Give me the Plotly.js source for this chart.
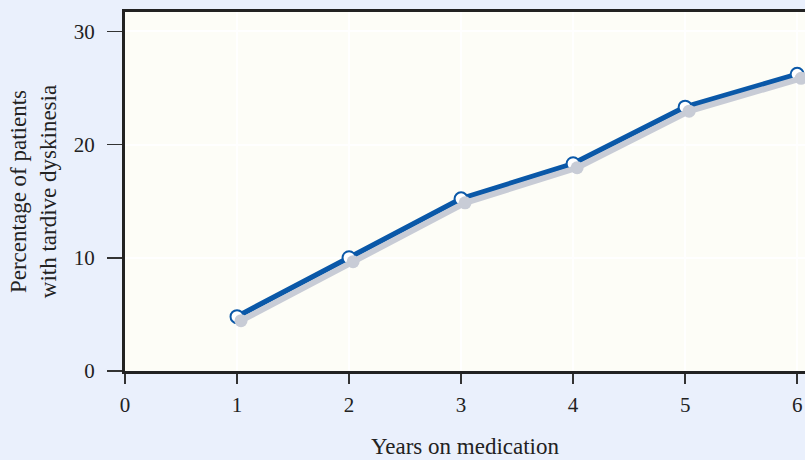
<!DOCTYPE html>
<html><head><meta charset="utf-8">
<script src="https://cdn.plot.ly/plotly-3.0.1.min.js"></script>
<style>html,body{margin:0;padding:0;background:#eaf0fc;}#chart{width:805px;height:460px;}</style>
</head><body><div id="chart"></div>
<script>
const years = [1, 2, 3, 4, 5, 6];
const percent = [4.8, 10.0, 15.2, 18.3, 23.3, 26.2];
const xTicks = [0, 1, 2, 3, 4, 5, 6];
const yTicks = [0, 10, 20, 30];

const W = 805, H = 460, L = 125, R = 0, T = 12, B = 89;
const xr = [0, 6.07], yr = [0, 31.7];
const pxX = (xr[1]-xr[0])/(W-L-R), pxY = (yr[1]-yr[0])/(H-T-B);
const sh = 4;

const font = "'Liberation Serif', 'Times New Roman', serif";
const tf = {family: font, size: 21, color: '#222'};
const shadow = {x: years, y: percent, xaxis: 'x2', yaxis: 'y2', mode: 'lines+markers',
  line: {color: '#c8ccd6', width: 6}, marker: {size: 13, color: '#c8ccd6'}, hoverinfo: 'skip', showlegend: false};
const main = {x: years, y: percent, mode: 'lines+markers',
  line: {color: '#0a58a8', width: 5.5},
  marker: {size: 13, color: '#ffffff', line: {color: '#0a58a8', width: 2}}, showlegend: false};

const layout = {
  width: W, height: H, margin: {l: L, r: R, t: T, b: B},
  paper_bgcolor: '#eaf0fc', plot_bgcolor: '#fdfdf7',
  font: {family: font, size: 21, color: '#222'},
  xaxis: {range: xr, tickvals: xTicks, tickfont: tf, showgrid: true, gridcolor: '#ffffff', gridwidth: 2, zeroline: false,
    showline: true, linecolor: '#222', linewidth: 3, mirror: true, ticks: 'outside', ticklen: 10, tickwidth: 1.5, tickcolor: '#333',
    ticklabelstandoff: 3,
    title: {text: 'Years on medication', font: {family: font, size: 23, color: '#222'}, standoff: 22}},
  yaxis: {range: yr, tickvals: yTicks, tickfont: tf, showgrid: true, gridcolor: '#ffffff', gridwidth: 2, zeroline: false,
    showline: true, linecolor: '#222', linewidth: 3, ticks: 'outside', ticklen: 15, tickwidth: 1.5, tickcolor: '#333',
    ticklabelstandoff: 8,
    title: {text: 'Percentage of patients<br>with tardive dyskinesia', font: {family: font, size: 23, color: '#222'}, standoff: 11}},
  xaxis2: {range: [xr[0]-sh*pxX, xr[1]-sh*pxX], overlaying: 'x', visible: false},
  yaxis2: {range: [yr[0]+sh*pxY, yr[1]+sh*pxY], overlaying: 'y', visible: false}
};
Plotly.newPlot('chart', [shadow, main], layout, {displayModeBar: false, staticPlot: true});
</script></body></html>
